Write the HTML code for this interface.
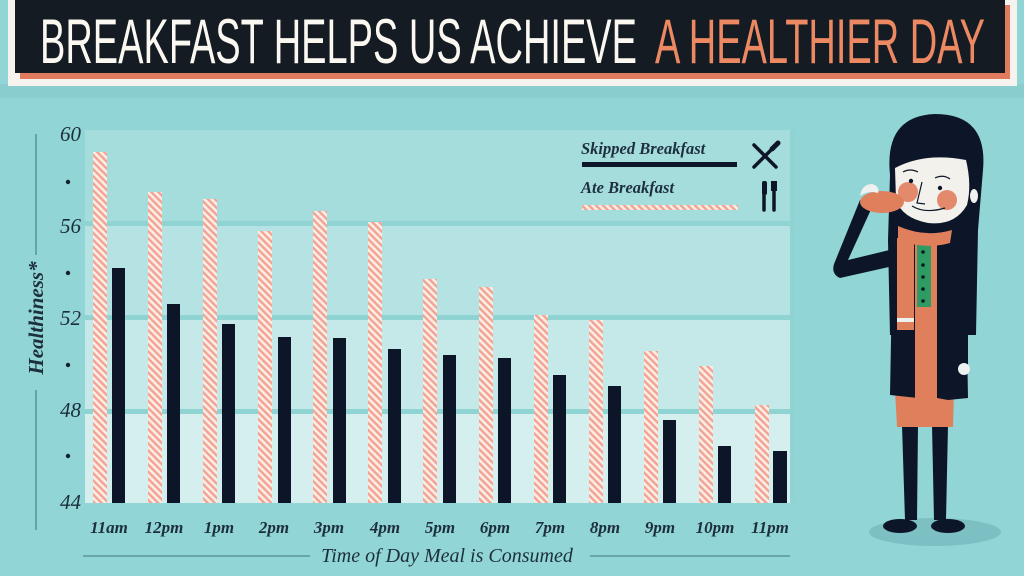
<!DOCTYPE html>
<html><head><meta charset="utf-8"><style>
html,body{margin:0;padding:0;background:#91d4d5;}
svg{display:block}
</style></head><body>
<svg width="1024" height="576" viewBox="0 0 1024 576" xmlns="http://www.w3.org/2000/svg">
<defs>
<pattern id="h" patternUnits="userSpaceOnUse" width="5" height="5" patternTransform="rotate(-45)">
<rect width="5" height="5" fill="#fbece6"/>
<rect width="2.4" height="5" fill="#f2a391"/>
</pattern>
</defs>
<rect width="1024" height="576" fill="#91d5d6"/>
<rect x="0" y="84" width="1024" height="14" fill="#89cdcf"/>
<!-- banner -->
<rect x="8" y="0" width="1009" height="86" fill="#f6f3ee"/>
<rect x="20" y="5" width="990" height="74" fill="#e07b5e"/>
<rect x="15" y="0" width="990" height="73" fill="#141b23"/>
<text x="40" y="63" font-family="Liberation Sans Narrow, Liberation Sans, sans-serif" font-size="63" fill="#fbf8f2" textLength="597" lengthAdjust="spacingAndGlyphs">BREAKFAST HELPS US ACHIEVE</text>
<text x="655" y="63" font-family="Liberation Sans Narrow, Liberation Sans, sans-serif" font-size="63" fill="#ec8962" textLength="330" lengthAdjust="spacingAndGlyphs">A HEALTHIER DAY</text>

<!-- chart bands -->
<rect x="85" y="130" width="707" height="96" fill="#a5dcdc"/>
<rect x="85" y="224" width="707" height="96" fill="#b5e2e2"/>
<rect x="85" y="318" width="707" height="96" fill="#c5e9e8"/>
<rect x="85" y="412" width="707" height="91" fill="#d4efee"/>
<rect x="80" y="221" width="712" height="5" fill="#8fd3d3"/>
<rect x="80" y="315" width="712" height="5" fill="#8fd3d3"/>
<rect x="80" y="409" width="712" height="5" fill="#8fd3d3"/>
<rect x="790" y="130" width="5" height="373" fill="#8fd3d3"/>

<!-- bars -->
<g fill="url(#h)">
<rect x="93" y="152" width="14" height="351"/>
<rect x="148" y="192" width="14" height="311"/>
<rect x="203" y="199" width="14" height="304"/>
<rect x="258" y="231" width="14" height="272"/>
<rect x="313" y="211" width="14" height="292"/>
<rect x="368" y="222" width="14" height="281"/>
<rect x="423" y="279" width="14" height="224"/>
<rect x="479" y="287" width="14" height="216"/>
<rect x="534" y="315" width="14" height="188"/>
<rect x="589" y="320" width="14" height="183"/>
<rect x="644" y="351" width="14" height="152"/>
<rect x="699" y="366" width="14" height="137"/>
<rect x="755" y="405" width="14" height="98"/>
</g>
<g fill="#0d1628">
<rect x="112" y="268" width="13" height="235"/>
<rect x="167" y="304" width="13" height="199"/>
<rect x="222" y="324" width="13" height="179"/>
<rect x="278" y="337" width="13" height="166"/>
<rect x="333" y="338" width="13" height="165"/>
<rect x="388" y="349" width="13" height="154"/>
<rect x="443" y="355" width="13" height="148"/>
<rect x="498" y="358" width="13" height="145"/>
<rect x="553" y="375" width="13" height="128"/>
<rect x="608" y="386" width="13" height="117"/>
<rect x="663" y="420" width="13" height="83"/>
<rect x="718" y="446" width="13" height="57"/>
<rect x="773" y="451" width="14" height="52"/>
</g>

<!-- y axis -->
<g font-family="Liberation Serif, serif" font-style="italic" font-size="21" fill="#1d2f3f" text-anchor="end">
<text x="81" y="141">60</text>
<text x="81" y="233">56</text>
<text x="81" y="325">52</text>
<text x="81" y="417">48</text>
<text x="81" y="509">44</text>
</g>
<g fill="#14202e">
<circle cx="68" cy="182" r="2.2"/>
<circle cx="68" cy="273" r="2.2"/>
<circle cx="68" cy="365" r="2.2"/>
<circle cx="68" cy="456" r="2.2"/>
</g>
<line x1="36" y1="134" x2="36" y2="255" stroke="#4f8a90" stroke-width="1.3"/>
<line x1="36" y1="390" x2="36" y2="530" stroke="#4f8a90" stroke-width="1.3"/>
<text transform="translate(43,318) rotate(-90)" text-anchor="middle" font-family="Liberation Serif, serif" font-style="italic" font-weight="bold" font-size="21" fill="#1d2f3f">Healthiness*</text>

<!-- x labels -->
<g font-family="Liberation Serif, serif" font-style="italic" font-weight="bold" font-size="17" fill="#1d2f3f" text-anchor="middle">
<text x="109" y="533">11am</text>
<text x="164" y="533">12pm</text>
<text x="219" y="533">1pm</text>
<text x="274" y="533">2pm</text>
<text x="329" y="533">3pm</text>
<text x="385" y="533">4pm</text>
<text x="440" y="533">5pm</text>
<text x="495" y="533">6pm</text>
<text x="550" y="533">7pm</text>
<text x="605" y="533">8pm</text>
<text x="660" y="533">9pm</text>
<text x="715" y="533">10pm</text>
<text x="770" y="533">11pm</text>
</g>
<line x1="83" y1="556" x2="310" y2="556" stroke="#4f8a90" stroke-width="1.3"/>
<line x1="590" y1="556" x2="790" y2="556" stroke="#4f8a90" stroke-width="1.3"/>
<text x="447" y="562" text-anchor="middle" font-family="Liberation Serif, serif" font-style="italic" font-size="20" fill="#1d2f3f">Time of Day Meal is Consumed</text>

<!-- legend -->
<g font-family="Liberation Serif, serif" font-style="italic" font-weight="bold" font-size="16.5" fill="#1d2f3f">
<text x="581" y="154">Skipped Breakfast</text>
<text x="581" y="193">Ate Breakfast</text>
</g>
<rect x="582" y="162" width="155" height="5" fill="#0d1628"/>
<rect x="582" y="205" width="156" height="5" fill="url(#h)"/>
<g stroke="#0d1628" stroke-linecap="round">
<line x1="754" y1="145" x2="776" y2="167" stroke-width="3.5"/>
<line x1="776" y1="145" x2="754" y2="167" stroke-width="3.5"/>
<line x1="772" y1="149" x2="778" y2="143" stroke-width="5"/>
<line x1="764" y1="184" x2="764" y2="210" stroke-width="3.5"/>
<line x1="774" y1="188" x2="774" y2="210" stroke-width="3.5"/>
</g>
<rect x="762" y="181" width="5" height="14" rx="2" fill="#0d1628"/>
<rect x="771" y="181" width="6" height="10" fill="#0d1628"/>

<!-- woman -->
<ellipse cx="935" cy="532" rx="66" ry="14" fill="#7cc0c4"/>
<!-- legs -->
<path d="M902 425 L918 425 L917 520 L905 520 Z" fill="#0d1628"/>
<path d="M932 425 L948 425 L946 520 L934 520 Z" fill="#0d1628"/>
<ellipse cx="900" cy="526" rx="17" ry="7" fill="#0d1628"/>
<ellipse cx="948" cy="526" rx="17" ry="7" fill="#0d1628"/>
<!-- skirt -->
<path d="M895 390 L954 390 L953 427 L897 427 Z" fill="#e07f5c"/>
<!-- hair back -->
<path d="M890 175 Q884 116 935 114 Q988 114 983 170 L978 230 L976 335 L890 335 L888 240 Z" fill="#0d1628"/>
<!-- coat body -->
<path d="M893 232 L965 232 L968 398 L948 400 L946 330 L925 330 L918 398 L890 395 Z" fill="#0d1628"/>
<rect x="915" y="240" width="22" height="160" fill="#e07f5c"/>
<rect x="917" y="243" width="14" height="64" fill="#2e9b62"/>
<g fill="#0d1628">
<circle cx="923" cy="252" r="1.8"/><circle cx="923" cy="265" r="1.8"/><circle cx="923" cy="277" r="1.8"/><circle cx="923" cy="289" r="1.8"/><circle cx="923" cy="301" r="1.8"/>
</g>
<path d="M937 300 L950 300 L948 400 L937 398 Z" fill="#0d1628"/>
<!-- right arm -->
<path d="M956 240 L968 240 L968 365 L958 365 Z" fill="#0d1628"/>
<ellipse cx="964" cy="369" rx="6" ry="6" fill="#eef1f0"/>
<!-- left arm -->
<path d="M860 200 L873 205 L848 260 L898 248 L902 264 L840 278 Q831 274 834 264 Z" fill="#0d1628"/>
<!-- face -->
<ellipse cx="974" cy="196" rx="4" ry="7" fill="#eef1f0"/>
<path d="M895 168 Q925 152 966 160 Q972 185 967 205 Q955 226 928 223 Q902 218 896 200 Z" fill="#f3f1ec"/>
<circle cx="908" cy="192" r="10" fill="#e38a6c"/>
<circle cx="947" cy="200" r="10" fill="#e38a6c"/>
<circle cx="911" cy="181" r="2.2" fill="#0d1628"/>
<circle cx="940" cy="188" r="2.2" fill="#0d1628"/>
<path d="M903 172 Q910 168 918 172 M935 178 Q943 174 950 179" stroke="#0d1628" stroke-width="1.2" fill="none"/>
<path d="M922 182 L917 203 L925 204 M912 206 Q925 214 945 208" stroke="#0d1628" stroke-width="1.2" fill="none"/>
<!-- scarf -->
<path d="M898 226 Q925 238 952 230 L950 243 Q925 250 898 240 Z" fill="#e07f5c"/>
<rect x="897" y="238" width="17" height="92" fill="#e07f5c"/>
<rect x="897" y="318" width="17" height="4" fill="#eef1f0"/>
<!-- bagel & hand -->
<ellipse cx="882" cy="202" rx="22" ry="11" fill="#e07f5c"/>
<path d="M860 196 Q862 184 872 184 Q880 186 878 193 Q868 190 860 196 Z" fill="#eef1f0"/>
</svg>
</body></html>
